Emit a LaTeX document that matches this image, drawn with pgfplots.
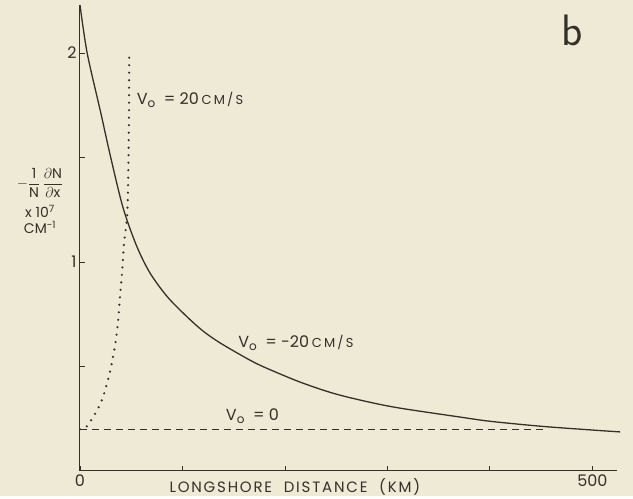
\documentclass[border=0pt]{standalone}
\usepackage{pgfplots}
\pgfplotsset{compat=1.18}
\usepackage{fontspec}
\setmainfont{Poppins}
\newfontfamily\spaced[LetterSpace=12]{Poppins}
\definecolor{paper}{RGB}{238,234,214}
\definecolor{ink}{RGB}{52,48,42}
\newcommand{\Vo}{V\raisebox{-3pt}{\fontsize{12}{14}\selectfont o}}

\begin{document}
\begin{tikzpicture}
\fill[paper] (-80pt,-25pt) rectangle (553pt,471pt);
\begin{axis}[
    scale only axis,
    width=537pt, height=466pt,
    xmin=0, xmax=524, ymin=0, ymax=2.23,
    axis x line=bottom, axis y line=left,
    axis line style={-, ink, line width=1pt},
    tick align=inside,
    major tick length=5pt,
    tick style={ink, line width=0.9pt},
    xtick={0,100,200,300,400,500},
    xticklabels={0,,,,,500},
    ytick={0.5,1,1.5,2},
    yticklabels={,1,,2},
    /pgf/number format/assume math mode=true,
    ticklabel style={font=\fontsize{16}{18}\selectfont, text=ink},
    xlabel={\spaced LONGSHORE\ \ DISTANCE\ \ (KM)},
    xlabel style={at={(axis description cs:0.40,0)}, anchor=north, yshift=-4pt, font=\fontsize{15}{17}\selectfont, text=ink},
    clip=false,
]
% V0 = -20 cm/s
\addplot[ink, line width=1.3pt, smooth, tension=0.5] coordinates {
(0,2.23) (7,2.00) (20,1.72) (30,1.50) (42,1.26) (55,1.08) (68,0.95)
(85,0.835) (104,0.74) (120,0.67) (137,0.612) (166,0.53) (183,0.49)
(215,0.425) (247,0.372) (280,0.332) (312,0.301) (371,0.258)
(400,0.238) (450,0.214) (500,0.196) (527,0.187)
};
% V0 = 20 cm/s
\addplot[ink, line width=2.4pt, line cap=round, dash pattern=on 0pt off 7.5pt, smooth, tension=0.4] coordinates {
(0,0.20) (7,0.215) (16.6,0.29) (22.5,0.354) (29,0.469) (34,0.593) (37,0.708)
(39,0.833) (41,0.947) (43,1.09) (46,1.22) (47,1.39) (47.8,1.7) (48,1.99)
};
% V0 = 0
\addplot[ink, line width=1.2pt, dash pattern=on 7pt off 5pt] coordinates {
(0,0.20) (455,0.20)
};
\node[anchor=west, text=ink, font=\fontsize{16}{18}\selectfont] at (axis cs:52,1.775) {\Vo\ \ =\ 20\,{\fontsize{13}{15}\selectfont C\,M\,/\,S}};
\node[anchor=west, text=ink, font=\fontsize{16}{18}\selectfont] at (axis cs:151,0.615) {\Vo\ \ =\ -20\,{\fontsize{13}{15}\selectfont C\,M\,/\,S}};
\node[anchor=west, text=ink, font=\fontsize{16}{18}\selectfont] at (axis cs:139,0.26) {\Vo\ \ =\ 0};
\node[text=ink, font=\fontsize{44}{48}\selectfont\sffamily] at (axis cs:480,2.11) {b};
\node[text=ink, align=center, font=\fontsize{14}{16}\selectfont] at (rel axis cs:-0.0745,0.580)
  {$-\displaystyle\frac{\mbox{1}}{\mbox{N}}\,\frac{\partial\mbox{N}}{\partial\mbox{x}}$\\[6pt] x\ 10$^{\mbox{\fontsize{10}{12}\selectfont 7}}$\\ CM$^{\mbox{\fontsize{10}{12}\selectfont -1}}$};
\end{axis}
\end{tikzpicture}
\end{document}
